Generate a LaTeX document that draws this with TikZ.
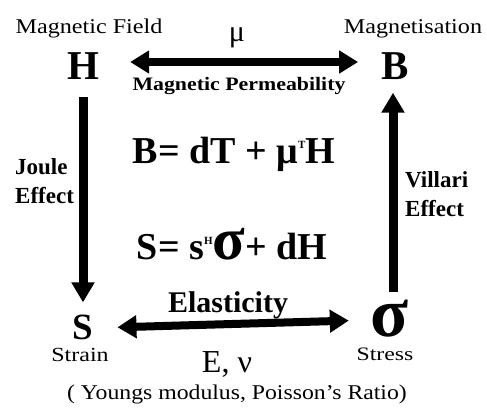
\documentclass[tikz,border=0pt]{standalone}
\usepackage{fontspec}
\usepackage{graphicx}
\setmainfont{Liberation Serif}
\usetikzlibrary{arrows.meta}
\newcommand{\wide}[2][1.15]{\scalebox{#1}[1]{#2}}
\newcommand{\supr}[1]{\raisebox{15pt}{\fontsize{11}{11}\selectfont #1}}
\tikzset{
  qty/.style   ={inner sep=0pt, font=\fontsize{41}{41}\selectfont\bfseries},
  caption/.style={inner sep=0pt, anchor=base, font=\fontsize{21}{25}\selectfont},
  effect/.style={inner sep=0pt, anchor=west, align=left, font=\fontsize{23}{29}\selectfont\bfseries},
  eqn/.style   ={inner sep=0pt, anchor=base, font=\fontsize{38}{38}\selectfont\bfseries},
  harr/.style  ={{Triangle[length=19pt,width=22pt]}-{Triangle[length=19pt,width=22pt]}, line width=8pt},
  varr/.style  ={-{Triangle[length=20pt,width=22pt]}, line width=9pt},
}
\begin{document}
\begin{tikzpicture}[x=1pt,y=-1pt]
  \useasboundingbox (0,0) rectangle (487,407);

  % the four quantities at the corners
  \node[qty] (H) at (83,66) {H};
  \node[qty] (B) at (395,66) {B};
  \node[qty, font=\fontsize{37}{37}\selectfont\bfseries] (S) at (83,327) {S};
  \node[qty, font=\fontsize{70}{70}\selectfont\bfseries] (sig) at (390,319) {σ};

  % names above and below them
  \node[caption] (field) at (89,33) {\wide{Magnetic Field}};
  \node[caption] (magn)  at (413,33) {\wide{Magnetisation}};
  \node[caption, font=\fontsize{20}{24}\selectfont] (strain) at (80,361) {\wide[1.2]{Strain}};
  \node[caption, font=\fontsize{19}{23}\selectfont] (stress) at (385,360) {\wide[1.25]{Stress}};

  % connectors
  \draw[harr, shorten <=31pt, shorten >=23pt] ([yshift=4pt]H.east) -- ([yshift=4pt]B.west);
  \draw[varr, shorten <=17pt, shorten >=12pt] (H.south) -- (S.north);
  \draw[varr, shorten <=8pt, shorten >=13pt] ([xshift=3pt]sig.north) -- ([xshift=-2pt]B.south);
  \draw[harr, shorten <=24pt, shorten >=22pt] ([yshift=-1pt]S.east) -- ([yshift=-1pt]sig.west);

  % labels on the connectors
  \node[caption, font=\fontsize{30}{30}\selectfont] (mu) at (237,41) {μ};
  \node[caption, font=\fontsize{19}{22}\selectfont\bfseries] (perm) at (239,90) {\wide[1.15]{Magnetic Permeability}};
  \node[effect] (joule) at (15,181) {Joule\\Effect};
  \node[effect] (villari) at (405,194) {Villari\\Effect};
  \node[caption, font=\fontsize{30}{30}\selectfont\bfseries] (elast) at (228,312) {Elasticity};
  \node[caption, font=\fontsize{32}{32}\selectfont] (Enu) at (227,372) {E, ν};
  \node[caption] (moduli) at (237,399) {\wide[1.13]{( Youngs modulus, Poisson's Ratio)}};

  % constitutive equations in the middle
  \node[eqn] (eqB) at (234,163) {B= dT + μ\supr{T}H};
  \node[eqn] (eqS) at (232,259) {S= s\supr{H}{\fontsize{60}{60}\selectfont σ}+ dH};
\end{tikzpicture}
\end{document}
